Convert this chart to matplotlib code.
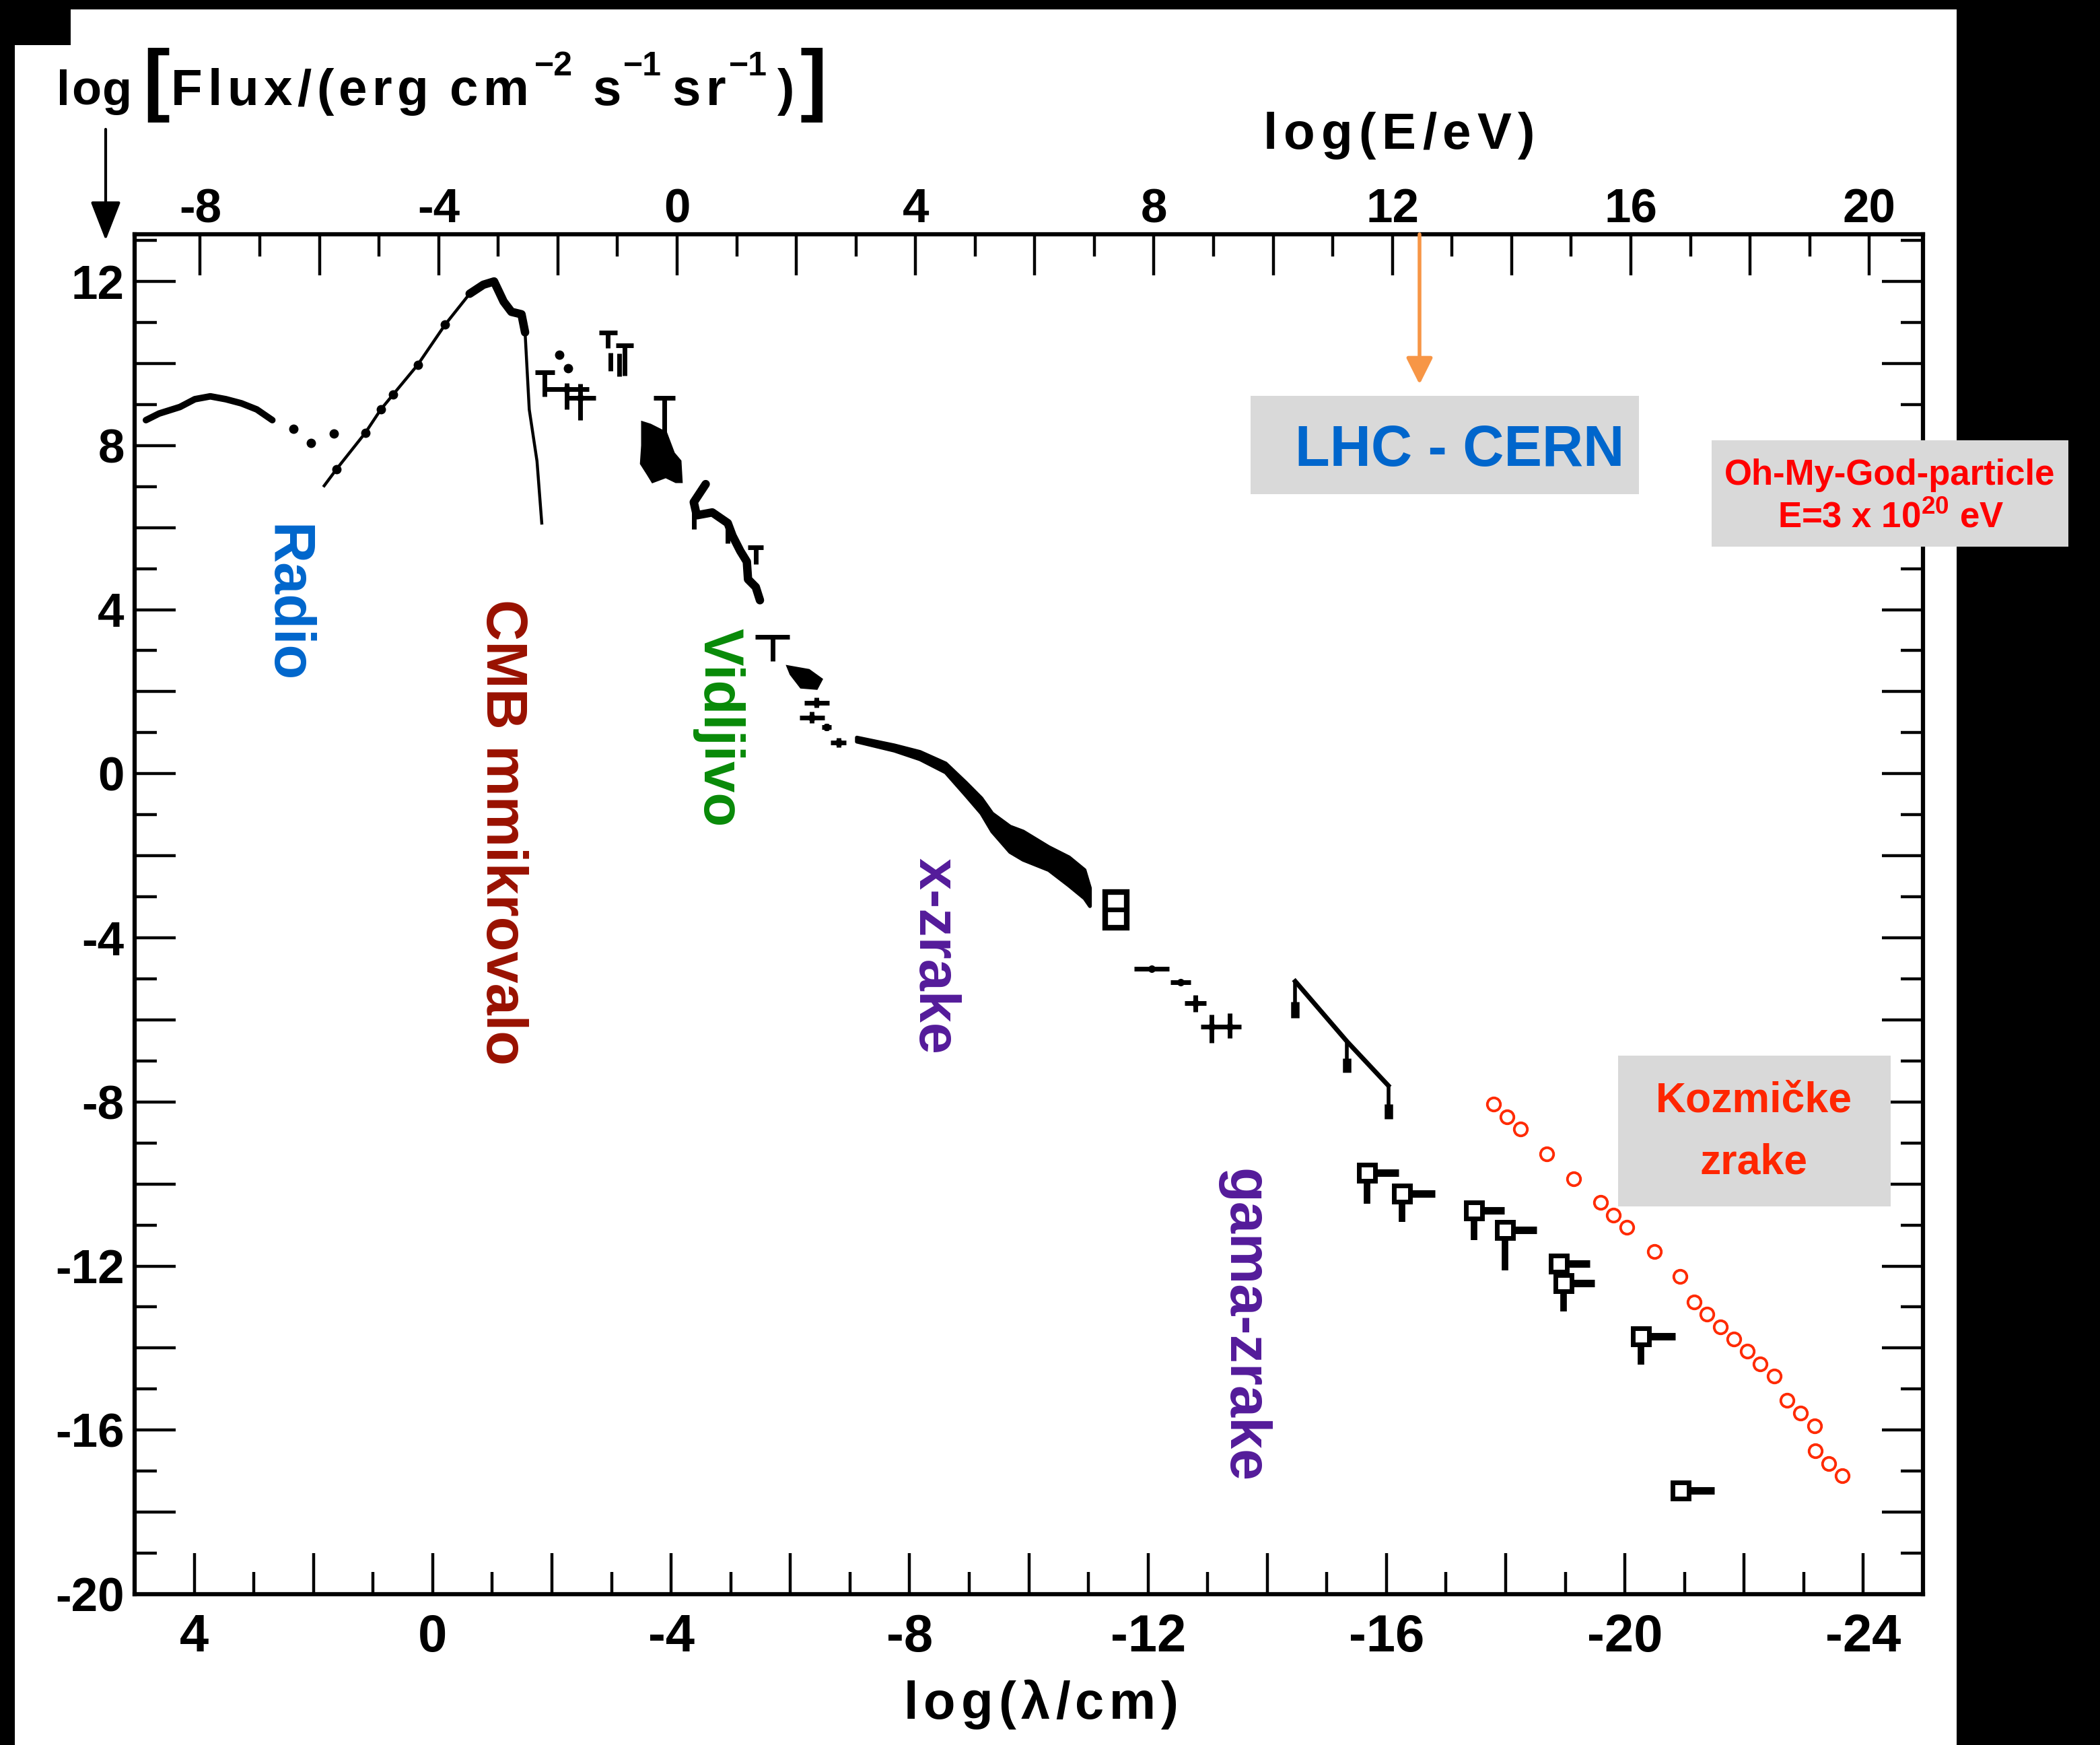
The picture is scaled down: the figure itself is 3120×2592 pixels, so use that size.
import numpy as np
import matplotlib
matplotlib.use("Agg")
import matplotlib.pyplot as plt
from matplotlib import font_manager
from matplotlib.patches import Rectangle, Polygon, FancyArrowPatch
from matplotlib.ticker import FixedLocator, FuncFormatter

W, H = 3120, 2592

_names = {f.name for f in font_manager.fontManager.ttflist}
SCAN = "Liberation Sans Narrow" if "Liberation Sans Narrow" in _names else "Liberation Sans"
SANS = ["Liberation Sans", "DejaVu Sans"]
plt.rcParams["font.family"] = [SCAN, "DejaVu Sans"]
plt.rcParams["font.weight"] = "bold"
plt.rcParams["mathtext.default"] = "regular"

# ---- data: x = log(lambda/cm), y = log(flux) ----
radio_lam = [4.81, 4.59, 4.24, 3.99, 3.73, 3.47, 3.21, 2.95, 2.69]
radio_flux = [8.62, 8.78, 8.94, 9.13, 9.20, 9.13, 9.03, 8.88, 8.62]
radio_pts_lam = [2.34, 2.04, 1.66]
radio_pts_flux = [8.41, 8.06, 8.29]

cmb_lam = [1.82, 1.61, 1.13, 0.87, 0.66, 0.25, -0.21, -0.62, -0.85, -1.03,
           -1.19, -1.32, -1.49, -1.55, -1.62, -1.75, -1.83]
cmb_flux = [7.02, 7.43, 8.31, 8.88, 9.25, 9.97, 10.95, 11.70, 11.92, 12.00,
            11.51, 11.26, 11.20, 10.76, 8.88, 7.62, 6.11]

ir_dot_lam = [-2.12, -2.27]
ir_dot_flux = [10.22, 9.88]

# upper-limit "T" symbols
t_lam = [-1.88, -2.94, -3.22, -3.89, -5.42, -5.70]
t_top = [9.79, 10.76, 10.45, 9.16, 5.52, 3.33]
t_bot = [9.19, 10.38, 9.70, 8.31, 5.11, 2.74]
t_half = [0.16, 0.15, 0.15, 0.18, 0.13, 0.29]

bar_lam = [-2.98, -3.13, -4.38, -4.95]
bar_top = [10.26, 10.25, 6.62, 6.05]
bar_bot = [9.82, 9.69, 5.97, 5.61]

# error-bar crosses
cross_lam = [-2.25, -2.48, -6.44, -6.36, -6.61, -6.81, -12.79, -13.07, -13.37, -12.06, -12.55]
cross_flux = [9.38, 9.16, 1.73, 1.36, 1.14, 0.76, -5.59, -6.16, -6.16, -4.76, -5.09]
cross_dlam = [0.37, 0.25, 0.21, 0.21, 0.08, 0.13, 0.18, 0.19, 0.19, 0.29, 0.17]
cross_dlo = [0.50, 0.54, 0.12, 0.13, 0.08, 0.12, 0.22, 0.40, 0.28, 0.0, 0.0]
cross_dhi = [0.15, 0.34, 0.13, 0.16, 0.08, 0.12, 0.19, 0.29, 0.32, 0.0, 0.0]

vis_blob_lam = [-3.52, -3.65, -3.91, -4.04, -4.15, -4.17, -4.08, -3.91, -3.69, -3.61, -3.50, -3.52]
vis_blob_flux = [8.56, 8.50, 8.31, 7.81, 7.62, 7.12, 7.12, 7.24, 7.12, 7.31, 7.56, 8.00]

vis_lam = [-4.58, -4.38, -4.43, -4.69, -4.95, -5.03, -5.16, -5.27, -5.29, -5.42, -5.49]
vis_flux = [7.06, 6.62, 6.30, 6.37, 6.11, 5.80, 5.43, 5.17, 4.74, 4.55, 4.23]

uv_blob_lam = [-5.96, -6.31, -6.52, -6.44, -6.18, -6.01]
uv_blob_flux = [2.61, 2.52, 2.30, 2.08, 2.11, 2.43]

xr_lam = [-7.11, -7.74, -8.17, -8.60, -8.94, -9.20, -9.38, -9.68, -9.90, -10.33, -10.67, -10.93, -11.02]
xr_top = [0.89, 0.70, 0.54, 0.26, -0.21, -0.59, -0.96, -1.28, -1.40, -1.78, -2.03, -2.34, -2.78]
xr_bot = [0.79, 0.57, 0.36, 0.04, -0.52, -0.96, -1.40, -1.90, -2.09, -2.34, -2.72, -3.03, -3.22]

xbox_lam = [-11.28, -11.64]
xbox_flux = [-3.75, -2.88]

gam_lam = [-14.47, -15.34, -16.03]
gam_flux = [-5.06, -6.53, -7.60]
gam_drop = [-5.96, -7.28, -8.41]

sq_lam = [-15.67, -16.26, -17.47, -17.99, -18.89, -18.97, -20.27, -20.94]
sq_flux = [-9.73, -10.24, -10.64, -11.12, -11.94, -12.42, -13.71, -17.48]
sq_tail = [-16.21, -16.81, -17.98, -18.52, -19.41, -19.49, -20.85, -21.50]
sq_stem = [-10.48, -10.92, -11.36, -12.11, -12.42, -13.11, -14.40, -17.48]

# cosmic rays (red circles)
cr_lam = [-17.80, -18.02, -18.25, -18.69, -19.14, -19.59, -19.81, -20.03, -20.49, -20.92,
          -21.16, -21.38, -21.60, -21.83, -22.05, -22.27, -22.50, -22.72, -22.95, -23.18,
          -23.19, -23.42, -23.64]
cr_flux = [-8.05, -8.37, -8.66, -9.26, -9.87, -10.45, -10.76, -11.06, -11.65, -12.26,
           -12.87, -13.18, -13.48, -13.78, -14.08, -14.39, -14.69, -15.28, -15.58, -15.90,
           -16.51, -16.82, -17.11]

E_OFFSET = -4.1  # log(E/eV) = E_OFFSET - log(lambda/cm), as drawn

# ---------------------------------------------------------------
fig = plt.figure(figsize=(W / 100, H / 100), dpi=100, facecolor="white")
ax = fig.add_axes([200 / W, 1 - 2368 / H, (2857 - 200) / W, (2368 - 348) / H])
ax.set_xlim(5, -25)
ax.set_ylim(-20, 13.15)

K = "black"
ax.plot(radio_lam, radio_flux, color=K, lw=7, solid_capstyle="round")
ax.plot(radio_pts_lam, radio_pts_flux, "o", color=K, ms=9)
ax.plot(cmb_lam, cmb_flux, color=K, lw=3.2)
ax.plot(cmb_lam[1:7], cmb_flux[1:7], "o", color=K, ms=9)
ax.plot(cmb_lam[7:14], cmb_flux[7:14], color=K, lw=9, solid_capstyle="round", solid_joinstyle="round")
ax.plot(ir_dot_lam, ir_dot_flux, "o", color=K, ms=9)

ax.vlines(t_lam, t_bot, t_top, color=K, lw=5)
ax.hlines(t_top, np.array(t_lam) + np.array(t_half), np.array(t_lam) - np.array(t_half), color=K, lw=5)
ax.vlines(bar_lam, bar_bot, bar_top, color=K, lw=5)

ax.errorbar(cross_lam, cross_flux, xerr=cross_dlam, yerr=[cross_dlo, cross_dhi],
            fmt="o", ms=7, color=K, elinewidth=5, capsize=0)

ax.add_patch(Polygon(np.column_stack([vis_blob_lam, vis_blob_flux]), closed=True,
                     facecolor=K, edgecolor=K, lw=3))
ax.plot(vis_lam, vis_flux, color=K, lw=9, solid_joinstyle="round", solid_capstyle="round")
ax.add_patch(Polygon(np.column_stack([uv_blob_lam, uv_blob_flux]), closed=True,
                     facecolor=K, edgecolor=K, lw=3))

ax.fill_between(xr_lam, xr_bot, xr_top, color=K, lw=4)
ax.add_patch(Rectangle((xbox_lam[0], xbox_flux[0]), xbox_lam[1] - xbox_lam[0],
                       xbox_flux[1] - xbox_flux[0], facecolor="white", edgecolor=K, lw=6))
ax.hlines(np.mean(xbox_flux), xbox_lam[0], xbox_lam[1], color=K, lw=5)

ax.plot(gam_lam, gam_flux, color=K, lw=5, solid_joinstyle="round")
ax.vlines(gam_lam, gam_drop, gam_flux, color=K, lw=4)
gd = np.array(gam_drop)
ax.vlines(gam_lam, gd, gd + 0.45 * (np.array(gam_flux) - gd), color=K, lw=9)

ax.hlines(sq_flux, sq_lam, sq_tail, color=K, lw=8)
ax.vlines(sq_lam, sq_stem, sq_flux, color=K, lw=7)
ax.plot(sq_lam, sq_flux, "s", ms=17, mfc="white", mec=K, mew=5, zorder=4)

ax.plot(cr_lam, cr_flux, "o", ms=14, mfc="none", mec="#FF2A00", mew=2.8, zorder=5)

# ---- axes / ticks ----
def every_fourth(v, pos):
    n = int(round(v))
    return str(n) if n % 4 == 0 else ""

ax.xaxis.set_major_locator(FixedLocator(np.arange(4, -25, -2)))
ax.xaxis.set_minor_locator(FixedLocator(np.arange(3, -24, -2)))
ax.yaxis.set_major_locator(FixedLocator(np.arange(-20, 13, 2)))
ax.yaxis.set_minor_locator(FixedLocator(np.arange(-19, 14, 2)))
ax.xaxis.set_major_formatter(FuncFormatter(every_fourth))
ax.yaxis.set_major_formatter(FuncFormatter(every_fourth))
ax.tick_params(which="major", direction="in", length=44, width=3.2, top=False, right=True)
ax.tick_params(which="minor", direction="in", length=24, width=3.2, top=False, right=True)
ax.tick_params(axis="x", which="major", pad=20, labelsize=56)
ax.tick_params(axis="y", which="major", pad=11, labelsize=51)
for sp in ax.spines.values():
    sp.set_linewidth(4.5)

ax2 = ax.twiny()
ax2.set_xlim(E_OFFSET - 5, E_OFFSET + 25)
ax2.xaxis.set_major_locator(FixedLocator(np.arange(-8, 21, 2)))
ax2.xaxis.set_minor_locator(FixedLocator(np.arange(-7, 20, 2)))
ax2.xaxis.set_major_formatter(FuncFormatter(every_fourth))
ax2.tick_params(axis="x", which="major", direction="in", length=44, width=3.2, pad=2, labelsize=51)
ax2.tick_params(axis="x", which="minor", direction="in", length=24, width=3.2)
for sp in ax2.spines.values():
    sp.set_visible(False)

# ---- black scan border ----
for x, y, w, h in [(0, 0, W, 14), (0, 0, 105, 67), (0, 0, 22, H), (2907, 0, W - 2907, H)]:
    fig.add_artist(Rectangle((x / W, 1 - (y + h) / H), w / W, h / H, transform=fig.transFigure,
                             facecolor="black", edgecolor="none", zorder=0))

renderer = fig.canvas.get_renderer()


def spread(s, x0, x1, y, size, **kw):
    # place characters of s so that they fill x0..x1 (pixels), baseline at y
    arts = [fig.text(0, 1 - y / H, c, fontsize=size, ha="left", va="baseline", **kw) for c in s]
    widths = [a.get_window_extent(renderer).width if c != " " else 0.25 * size * 100 / 72
              for a, c in zip(arts, s)]
    n = max(len(s) - 1, 1)
    gap = (x1 - x0 - sum(widths)) / n
    if len(s) > 1 and gap < 2:
        scale = (x1 - x0 - 2 * n) / sum(widths)
        for a in arts:
            a.set_fontsize(size * scale)
        widths = [w * scale for w in widths]
        gap = 2
    x = x0
    for a, w in zip(arts, widths):
        a.set_x(x / W)
        x += w + gap


def sup(x, y, s, size=36):
    fig.text(x / W, 1 - y / H, s, fontsize=size, ha="left", va="baseline")


# scanned axis titles
spread("log", 84, 196, 156, 54)
spread("[", 212, 240, 157, 86)
spread("Flux/(erg", 254, 637, 156, 55)
spread("cm", 668, 786, 156, 55)
sup(794, 112, "\u22122")
spread("s", 880, 920, 156, 55)
sup(926, 112, "\u22121")
spread("sr", 998, 1078, 156, 55)
sup(1083, 112, "\u22121")
spread(")", 1155, 1180, 156, 55)
spread("]", 1188, 1216, 157, 86)
spread("log(E/eV)", 1877, 2280, 221, 55)
spread("log(\u03bb/cm)", 1343, 1751, 2553, 56)

fig.add_artist(FancyArrowPatch(
    (157 / W, 1 - 192 / H), (157 / W, 1 - 357 / H), transform=fig.transFigure,
    arrowstyle="-|>,head_length=0.9,head_width=0.35", mutation_scale=40,
    color="black", lw=3, shrinkA=0, shrinkB=0))

# ---- coloured annotations ----
def ftext(x, y, s, **kw):
    return fig.text(x / W, 1 - y / H, s, family=SANS, weight="bold", **kw)


ftext(424, 897, "Radio", color="#0066CC", fontsize=61, rotation=270, ha="center", va="center")
ftext(745, 1236, "CMB mmikrovalo", color="#991100", fontsize=61, rotation=270, ha="center", va="center")
ftext(1067, 1081, "Vidljivo", color="#088A08", fontsize=60, rotation=270, ha="center", va="center")
ftext(1387, 1420, "x-zrake", color="#541B9A", fontsize=61, rotation=270, ha="center", va="center")
ftext(1846, 1969, "gama-zrake", color="#541B9A", fontsize=61, rotation=270, ha="center", va="center")


def box(x0, y0, x1, y1):
    fig.add_artist(Rectangle((x0 / W, 1 - y1 / H), (x1 - x0) / W, (y1 - y0) / H,
                             transform=fig.transFigure, facecolor="#D9D9D9",
                             edgecolor="none", zorder=2))


box(1858, 588, 2435, 734)
ftext(2169, 692, "LHC - CERN", color="#0066CC", fontsize=61, ha="center", va="baseline")
box(2543, 654, 3073, 812)
ftext(2808, 720, "Oh-My-God-particle", color="#FF0000", fontsize=38, ha="center", va="baseline")
ftext(2809, 784, "E=3 x 10$^{20}$ eV", color="#FF0000", fontsize=38, ha="center", va="baseline")
box(2404, 1568, 2809, 1792)
ftext(2606, 1651, "Kozmi\u010dke", color="#FF2600", fontsize=45, ha="center", va="baseline")
ftext(2606, 1744, "zrake", color="#FF2600", fontsize=45, ha="center", va="baseline")

fig.add_artist(FancyArrowPatch(
    (2109 / W, 1 - 348 / H), (2109 / W, 1 - 571 / H), transform=fig.transFigure,
    arrowstyle="-|>,head_length=0.6,head_width=0.3", mutation_scale=40,
    color="#F79646", lw=4, shrinkA=0, shrinkB=0, zorder=3))

fig.savefig("out.png", dpi=100)
